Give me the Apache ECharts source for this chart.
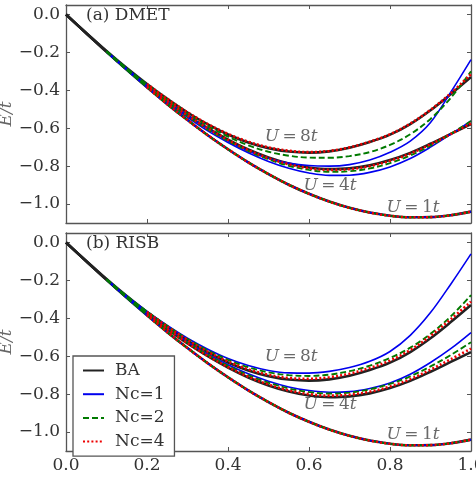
<!DOCTYPE html>
<html><head><meta charset="utf-8">
<script src="https://cdn.jsdelivr.net/npm/echarts@6/dist/echarts.min.js"></script>
<style>html,body{margin:0;padding:0;background:#fff}#c{width:476px;height:483px}</style>
</head><body><div id="c"></div>
<script>
// filling n
const nGrid = [0,0.05,0.1,0.15,0.2,0.25,0.3,0.35,0.4,0.45,0.5,0.55,0.6,0.65,0.7,0.75,0.8,0.85,0.9,0.95,1.0];
const xTicks = [0,0.2,0.4,0.6,0.8,1.0];
const yTicks = [-1.0,-0.8,-0.6,-0.4,-0.2,0.0];
const legendNames = ['BA','Nc=1','Nc=2','Nc=4'];
const _ = null;

// Bethe ansatz
const BA_U1 = [0,-0.099,-0.197,-0.292,-0.384,-0.473,-0.557,-0.637,-0.711,-0.780,-0.842,-0.898,-0.946,-0.987,-1.020,-1.045,-1.062,-1.070,-1.069,-1.059,-1.040];
const BA_U4 = [0,-0.099,-0.196,-0.289,-0.377,-0.458,-0.533,-0.600,-0.660,-0.712,-0.754,-0.786,-0.807,-0.816,-0.812,-0.796,-0.768,-0.730,-0.682,-0.630,-0.578];
const BA_U8 = [0,-0.098,-0.193,-0.283,-0.367,-0.445,-0.517,-0.580,-0.633,-0.675,-0.705,-0.723,-0.729,-0.722,-0.703,-0.673,-0.634,-0.578,-0.505,-0.420,-0.330];

// (a) DMET
const DMET_U1_Nc1 = [_,_,-0.197,-0.292,-0.384,-0.473,-0.557,-0.637,-0.711,-0.780,-0.842,-0.898,-0.946,-0.987,-1.020,-1.045,-1.062,-1.070,-1.069,-1.059,-1.040];
const DMET_U1_Nc2 = [_,_,-0.197,-0.292,-0.384,-0.473,-0.557,-0.637,-0.711,-0.780,-0.842,-0.898,-0.946,-0.987,-1.020,-1.045,-1.062,-1.070,-1.069,-1.059,-1.040];
const DMET_U1_Nc4 = [_,_,_,_,-0.384,-0.473,-0.557,-0.637,-0.711,-0.780,-0.842,-0.898,-0.946,-0.987,-1.020,-1.045,-1.062,-1.070,-1.069,-1.059,-1.040];
const DMET_U4_Nc1 = [_,_,-0.197,-0.291,-0.381,-0.465,-0.543,-0.614,-0.675,-0.729,-0.775,-0.811,-0.836,-0.849,-0.848,-0.833,-0.804,-0.760,-0.700,-0.632,-0.562];
const DMET_U4_Nc2 = [_,_,-0.196,-0.290,-0.379,-0.461,-0.537,-0.606,-0.667,-0.720,-0.764,-0.798,-0.820,-0.830,-0.827,-0.812,-0.784,-0.744,-0.692,-0.630,-0.562];
const DMET_U4_Nc4 = [_,_,_,_,-0.377,-0.458,-0.533,-0.601,-0.662,-0.715,-0.758,-0.790,-0.811,-0.820,-0.816,-0.800,-0.772,-0.734,-0.685,-0.631,-0.575];
const DMET_U8_Nc1 = [_,_,-0.194,-0.285,-0.372,-0.455,-0.532,-0.603,-0.667,-0.720,-0.760,-0.784,-0.797,-0.800,-0.792,-0.768,-0.727,-0.668,-0.570,-0.410,-0.238];
const DMET_U8_Nc2 = [_,_,-0.193,-0.284,-0.369,-0.449,-0.522,-0.588,-0.644,-0.690,-0.724,-0.745,-0.755,-0.756,-0.747,-0.726,-0.688,-0.632,-0.551,-0.440,-0.300];
const DMET_U8_Nc4 = [_,_,_,_,-0.367,-0.445,-0.516,-0.578,-0.630,-0.671,-0.701,-0.719,-0.726,-0.720,-0.701,-0.671,-0.632,-0.576,-0.503,-0.416,-0.315];

// (b) RISB
const RISB_U1_Nc1 = [_,_,-0.197,-0.292,-0.384,-0.473,-0.557,-0.637,-0.711,-0.780,-0.842,-0.898,-0.946,-0.987,-1.020,-1.045,-1.062,-1.070,-1.069,-1.059,-1.040];
const RISB_U1_Nc2 = [_,_,-0.197,-0.292,-0.384,-0.473,-0.557,-0.637,-0.711,-0.780,-0.842,-0.898,-0.946,-0.987,-1.020,-1.045,-1.062,-1.070,-1.069,-1.059,-1.040];
const RISB_U1_Nc4 = [_,_,_,_,-0.384,-0.473,-0.557,-0.637,-0.711,-0.780,-0.842,-0.898,-0.946,-0.987,-1.020,-1.045,-1.062,-1.070,-1.069,-1.059,-1.040];
const RISB_U4_Nc1 = [_,_,-0.196,-0.287,-0.373,-0.452,-0.524,-0.589,-0.645,-0.693,-0.732,-0.762,-0.781,-0.790,-0.787,-0.770,-0.741,-0.695,-0.633,-0.560,-0.475];
const RISB_U4_Nc2 = [_,_,-0.196,-0.288,-0.375,-0.455,-0.528,-0.593,-0.651,-0.700,-0.740,-0.770,-0.789,-0.797,-0.792,-0.775,-0.746,-0.706,-0.654,-0.594,-0.526];
const RISB_U4_Nc4 = [_,_,_,_,-0.376,-0.457,-0.531,-0.598,-0.657,-0.708,-0.749,-0.780,-0.800,-0.808,-0.803,-0.787,-0.760,-0.721,-0.671,-0.616,-0.560];
const RISB_U8_Nc1 = [_,_,-0.194,-0.283,-0.364,-0.438,-0.505,-0.563,-0.612,-0.649,-0.675,-0.688,-0.689,-0.680,-0.660,-0.627,-0.575,-0.490,-0.370,-0.220,-0.060];
const RISB_U8_Nc2 = [_,_,-0.193,-0.282,-0.364,-0.440,-0.509,-0.569,-0.619,-0.658,-0.685,-0.700,-0.704,-0.697,-0.679,-0.650,-0.609,-0.555,-0.482,-0.390,-0.278];
const RISB_U8_Nc4 = [_,_,_,_,-0.366,-0.443,-0.514,-0.576,-0.628,-0.669,-0.698,-0.715,-0.719,-0.711,-0.692,-0.662,-0.623,-0.567,-0.493,-0.405,-0.312];

// annotation labels: [n, E, U value]
const annotA = [[0.556,-0.645,'8'],[0.652,-0.905,'4'],[0.857,-1.021,'1']];
const annotB = [[0.556,-0.602,'8'],[0.652,-0.856,'4'],[0.857,-1.014,'1']];
const panelTitles = ['(a) DMET','(b) RISB'];

const FONT = 'DejaVu Serif';
const TXT = '#333';
const AX = '#555';

const styles = {
  'BA':   {color:'#222222', width:2.6, type:'solid'},
  'Nc=1': {color:'#0000ee', width:1.6, type:'solid'},
  'Nc=2': {color:'#007a00', width:1.9, type:[6,3]},
  'Nc=4': {color:'#ee0000', width:2.6, type:[2,2.2]}
};

function lineSeries(name, arr, gi){
  const s = styles[name];
  return {
    type:'line', name, xAxisIndex:gi*2, yAxisIndex:gi*2, smooth:0.35,
    symbol:'none', silent:true, animation:false,
    z: 2 + legendNames.indexOf(name),
    lineStyle:{color:s.color, width:s.width, type:s.type, cap:'butt'},
    itemStyle:{color:s.color},
    data: nGrid.map((n,i)=>[n, arr[i]])
  };
}

const fmt = v => (v < -1e-9 ? '\u2212' : '') + Math.abs(v).toFixed(1);

function axesFor(gi){
  const bottom = gi===1;
  const xs = [
    {type:'value', gridIndex:gi, position:'bottom', min:0, max:1, interval:0.2,
     axisLine:{show:true, onZero:false, lineStyle:{color:AX, width:1.3}},
     axisTick:{show:true, inside:true, length:4, lineStyle:{color:AX, width:1}},
     axisLabel:{show:bottom, margin:6, fontFamily:FONT, fontSize:17, color:TXT, formatter:fmt},
     splitLine:{show:false},
     name: bottom ? 'n' : '', nameLocation:'middle', nameGap:36, nameMoveOverlap:false,
     nameTextStyle:{fontFamily:FONT, fontStyle:'italic', fontSize:17, color:AX}},
    {type:'value', gridIndex:gi, position:'top', min:0, max:1, interval:0.2,
     axisLine:{show:true, onZero:false, lineStyle:{color:AX, width:1.3}},
     axisTick:{show:true, inside:true, length:4, lineStyle:{color:AX, width:1}},
     axisLabel:{show:false}, splitLine:{show:false}}
  ];
  const ys = [
    {type:'value', gridIndex:gi, position:'left', min:-1.1, max:0.05,
     axisLine:{show:true, onZero:false, lineStyle:{color:AX, width:1.3}},
     axisTick:{show:true, inside:true, length:4, customValues:yTicks, lineStyle:{color:AX, width:1}},
     axisLabel:{show:true, margin:6, customValues:yTicks, fontFamily:FONT, fontSize:17, color:TXT, formatter:fmt},
     splitLine:{show:false},
     name:'E/t', nameLocation:'middle', nameGap:51, nameRotate:90, nameMoveOverlap:false,
     nameTextStyle:{fontFamily:FONT, fontStyle:'italic', fontSize:17, color:'#666', padding:0}},
    {type:'value', gridIndex:gi, position:'right', min:-1.1, max:0.05,
     axisLine:{show:true, onZero:false, lineStyle:{color:AX, width:1.3}},
     axisTick:{show:true, inside:true, length:4, customValues:yTicks, lineStyle:{color:AX, width:1}},
     axisLabel:{show:false}, splitLine:{show:false}}
  ];
  return {xs, ys};
}

const a0 = axesFor(0), a1 = axesFor(1);

function annotSeries(list, gi){
  return {
    type:'scatter', xAxisIndex:gi*2, yAxisIndex:gi*2, symbolSize:0, silent:true, animation:false, z:10,
    data: list.map(d=>({value:[d[0],d[1]], u:d[2]})),
    label:{show:true, position:'inside',
      formatter: p => '{i|U}{n|\u2009=\u2009' + p.data.u + '}{i|t}',
      rich:{
        i:{fontFamily:FONT, fontStyle:'italic', fontSize:17, color:'#444'},
        n:{fontFamily:FONT, fontSize:17, color:'#444'}
      }}
  };
}

const series = [];
const panels = [
  {gi:0, data:{'BA':[BA_U1,BA_U4,BA_U8],'Nc=1':[DMET_U1_Nc1,DMET_U4_Nc1,DMET_U8_Nc1],'Nc=2':[DMET_U1_Nc2,DMET_U4_Nc2,DMET_U8_Nc2],'Nc=4':[DMET_U1_Nc4,DMET_U4_Nc4,DMET_U8_Nc4]}},
  {gi:1, data:{'BA':[BA_U1,BA_U4,BA_U8],'Nc=1':[RISB_U1_Nc1,RISB_U4_Nc1,RISB_U8_Nc1],'Nc=2':[RISB_U1_Nc2,RISB_U4_Nc2,RISB_U8_Nc2],'Nc=4':[RISB_U1_Nc4,RISB_U4_Nc4,RISB_U8_Nc4]}}
];
panels.forEach(p=>{
  legendNames.forEach(nm=>{
    p.data[nm].forEach(arr=>series.push(lineSeries(nm, arr, p.gi)));
  });
});
series.push(annotSeries(annotA,0));
series.push(annotSeries(annotB,1));

const chart = echarts.init(document.getElementById('c'), null, {renderer:'canvas'});
chart.setOption({
  animation:false,
  backgroundColor:'#fff',
  grid:[
    {left:66, top:5, width:405, height:218, show:false, containLabel:false, outerBoundsMode:'none'},
    {left:66, top:233, width:405, height:218, show:false, containLabel:false, outerBoundsMode:'none'}
  ],
  xAxis:[...a0.xs, ...a1.xs],
  yAxis:[...a0.ys, ...a1.ys],
  title: panelTitles.map((t,i)=>({text:t, left:86, top: i===0 ? 7 : 235, padding:0,
    textStyle:{fontFamily:FONT, fontWeight:'normal', fontSize:17, color:TXT}})),
  legend:{
    data: legendNames, orient:'vertical', left:73, top:356,
    backgroundColor:'#fff', borderColor:AX, borderWidth:1.3, borderRadius:0,
    padding:[6,10,6,9], itemWidth:21, itemHeight:14, itemGap:6.7, z:20,
    itemStyle:{opacity:0},
    textStyle:{fontFamily:FONT, fontSize:17, color:TXT, padding:[0,0,0,6]}
  },
  series
});
</script>
</body></html>
